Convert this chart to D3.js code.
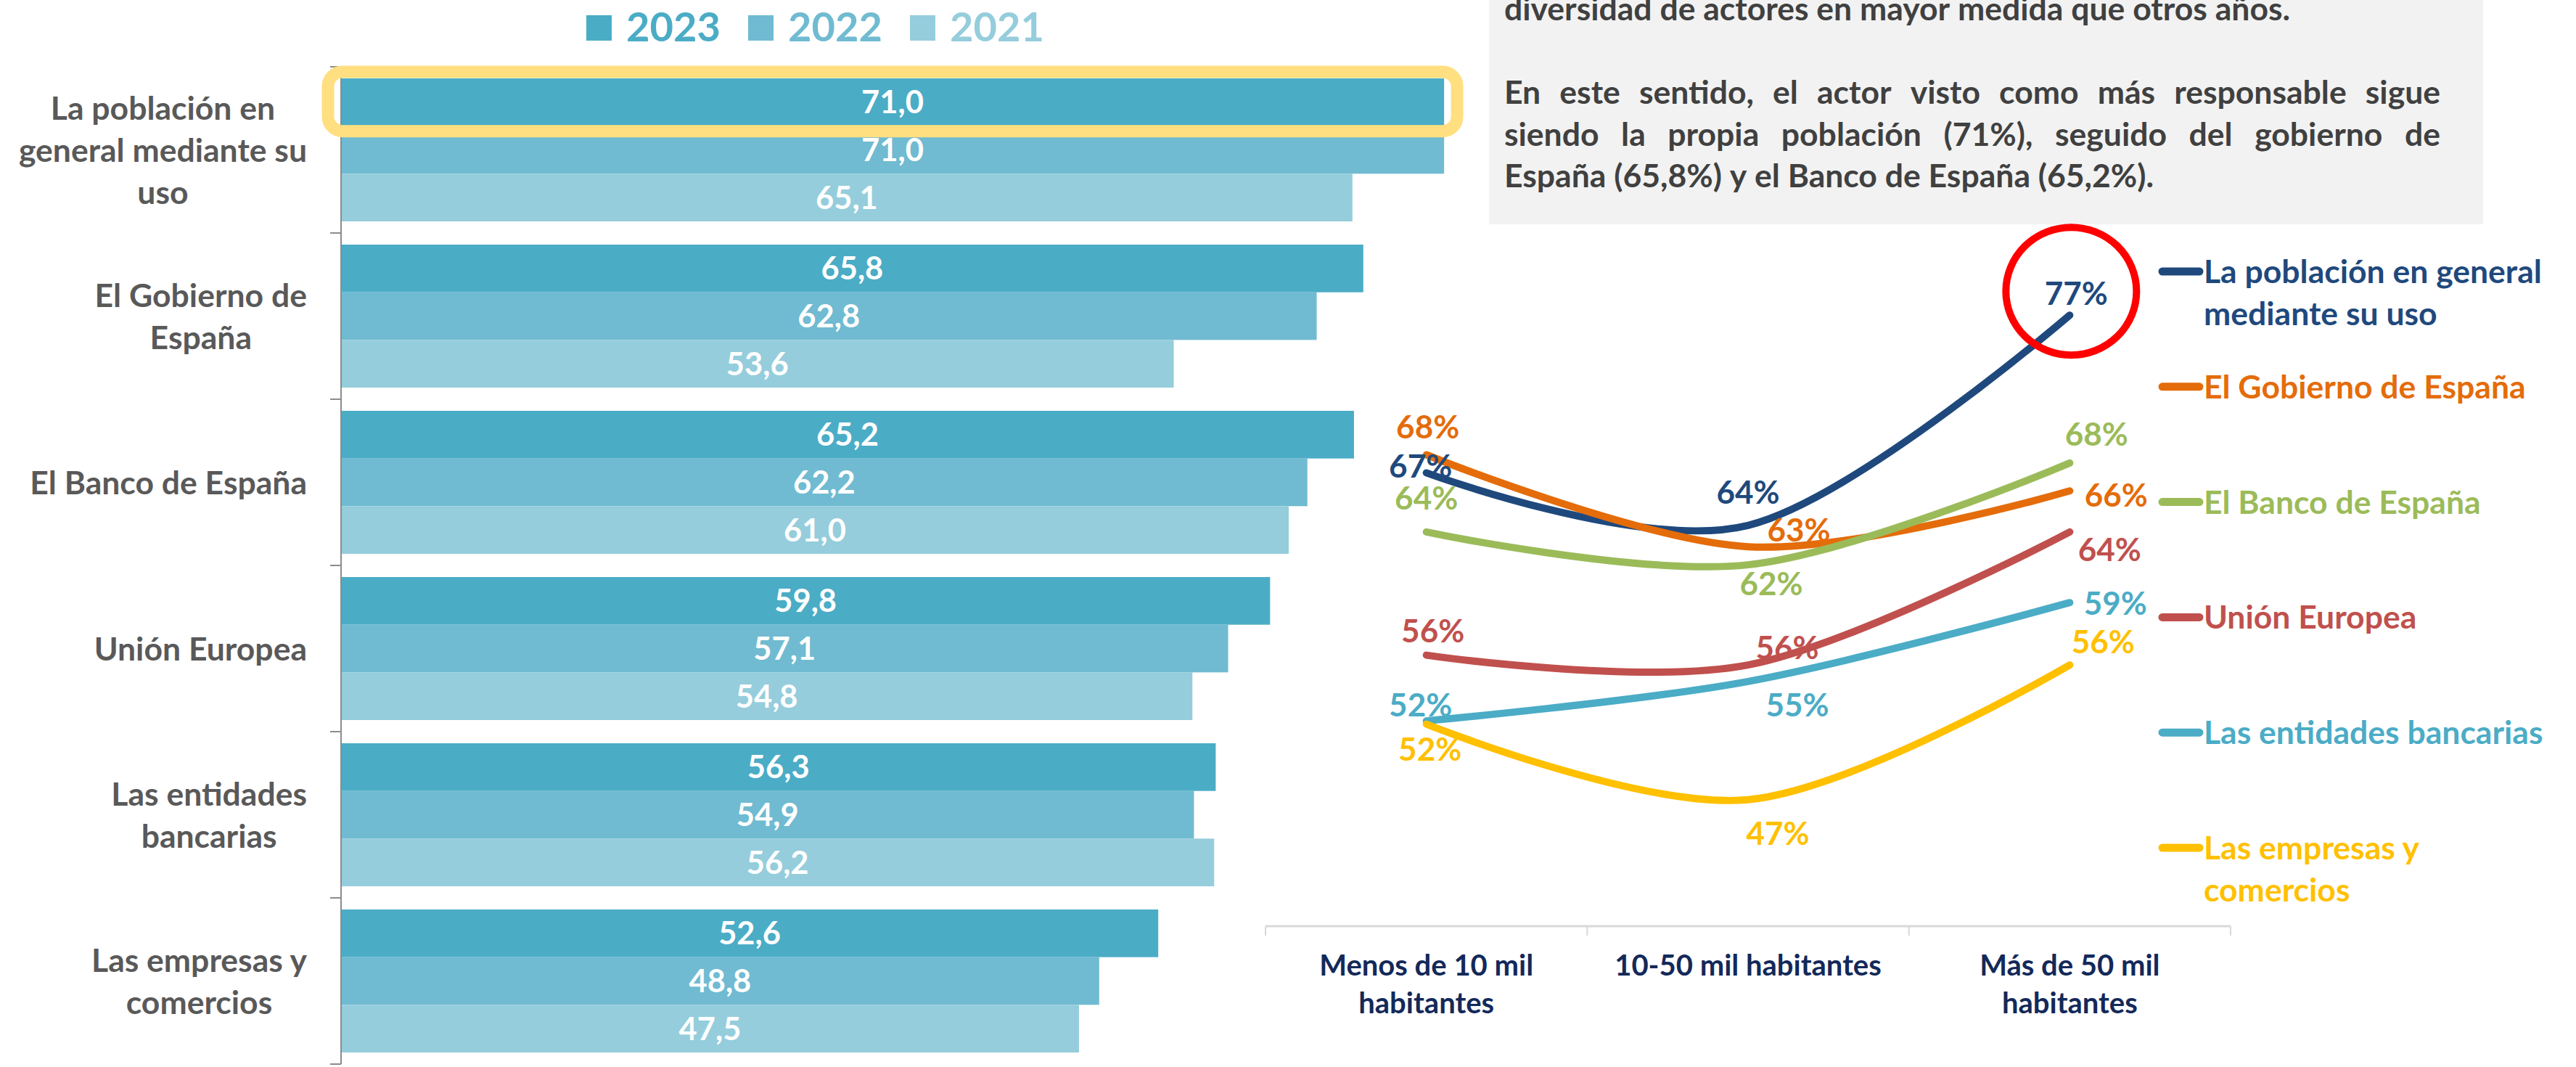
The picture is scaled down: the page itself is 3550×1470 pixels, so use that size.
<!DOCTYPE html>
<html><head><meta charset="utf-8">
<script src="https://cdn.jsdelivr.net/npm/d3@7"></script>
<style>
html,body{margin:0;padding:0;background:#fff;overflow:hidden;}
svg text{font-family:Lato,'Open Sans',sans-serif;font-weight:700;}
</style></head><body>
<svg id="chart" width="3550" height="1470"></svg>
<script>
// ---------------- DATA ----------------
const barCategories = ["La población en general mediante su uso","El Gobierno de España","El Banco de España","Unión Europea","Las entidades bancarias","Las empresas y comercios"];
const barLabelLines = [["La población en","general mediante su","uso"],["El Gobierno de","España"],["El Banco de España"],["Unión Europea"],["Las entidades","bancarias"],["Las empresas y","comercios"]];
const years = ["2023","2022","2021"];
const values2023 = [71.0,65.8,65.2,59.8,56.3,52.6];
const values2022 = [71.0,62.8,62.2,57.1,54.9,48.8];
const values2021 = [65.1,53.6,61.0,54.8,56.2,47.5];

const sizeCategories = ["Menos de 10 mil habitantes","10-50 mil habitantes","Más de 50 mil habitantes"];
const sizeLabelLines = [["Menos de 10 mil","habitantes"],["10-50 mil habitantes"],["Más de 50 mil","habitantes"]];
const lineSeriesNames = ["La población en general mediante su uso","El Gobierno de España","El Banco de España","Unión Europea","Las entidades bancarias","Las empresas y comercios"];
const legendLines = [["La población en general","mediante su uso"],["El Gobierno de España"],["El Banco de España"],["Unión Europea"],["Las entidades bancarias"],["Las empresas y","comercios"]];
const poblacion = [67.3,64.1,76.9];
const gobierno = [68.4,62.8,66.2];
const bancoEspana = [63.7,61.7,67.9];
const unionEuropea = [56.2,55.6,63.7];
const entidades = [52.2,54.6,59.4];
const empresas = [52.0,47.4,55.6];

const noteLines = ["diversidad de actores en mayor medida que otros años.","","En este sentido, el actor visto como más responsable sigue","siendo la propia población (71%), seguido del gobierno de","España (65,8%) y el Banco de España (65,2%)."];
const noteJustify = [false,false,true,true,false];

// ---------------- STYLE / LAYOUT ----------------
const barColors = ["#4BACC6","#70BBD1","#95CDDC"];
const lineColors = ["#1F497D","#E46C0A","#9BBB59","#C0504D","#4BACC6","#FFC000"];
const FS = 44.5;
// label offsets (dx, baseline dy) relative to each point
const labelOffsets = [
  [[-8,7],[0,-30],[9,-14]],
  [[2,-23],[70,-7],[64,22]],
  [[0,-31],[32,42],[37,-24]],
  [[9,-18],[54,-8],[55,40]],
  [[-8,-6],[68,48],[63,17]],
  [[5,50],[41,62],[46,-16]]
];

const svg = d3.select("#chart");
const locale = d3.formatLocale({decimal:",",thousands:".",grouping:[3],currency:["","€"]});
const fmt1 = locale.format(".1f");

function measure(str, size){
  const t = svg.append("text").attr("font-size",size).text(str);
  const w = t.node().getComputedTextLength();
  t.remove();
  return w;
}

// ---------------- BAR CHART ----------------
const seriesByYear = {"2023":values2023,"2022":values2022,"2021":values2021};
const yBand = d3.scaleBand().domain(barCategories).range([92,1466]).paddingInner(0).paddingOuter(0);
const yInner = d3.scaleBand().domain(years).range([16, yBand.step()-16]);
const xBar = d3.scaleLinear().domain([0,80]).range([470, 470+80*21.41]);
const color = d3.scaleOrdinal().domain(years).range(barColors);

const barData = barCategories.flatMap((c,i)=>years.map(yr=>({cat:c,year:yr,value:seriesByYear[yr][i]})));

const gBars = svg.append("g");
gBars.selectAll("rect").data(barData).join("rect")
  .attr("x",xBar(0))
  .attr("y",d=>yBand(d.cat)+yInner(d.year))
  .attr("width",d=>xBar(d.value)-xBar(0))
  .attr("height",yInner.bandwidth())
  .attr("fill",d=>color(d.year));

gBars.selectAll("text.val").data(barData).join("text").attr("class","val")
  .attr("x",d=>(xBar(0)+xBar(d.value))/2)
  .attr("y",d=>yBand(d.cat)+yInner(d.year)+yInner.bandwidth()/2)
  .attr("dy","0.36em")
  .attr("text-anchor","middle")
  .attr("font-size",43.5)
  .attr("fill","#fff")
  .text(d=>fmt1(d.value));

// axis
const gAxis = svg.append("g");
gAxis.append("line").attr("x1",xBar(0)).attr("x2",xBar(0)).attr("y1",yBand.range()[0]).attr("y2",yBand.range()[1])
  .attr("stroke","#8C8C8C").attr("stroke-width",2);
const tickYs = barCategories.map(c=>yBand(c)).concat([yBand.range()[1]]);
gAxis.selectAll("line.tick").data(tickYs).join("line").attr("class","tick")
  .attr("x1",xBar(0)-15).attr("x2",xBar(0)).attr("y1",d=>d).attr("y2",d=>d)
  .attr("stroke","#8C8C8C").attr("stroke-width",2);

// highlight around first bar
{
  const d = barData[0];
  const bx = xBar(0), by = yBand(d.cat)+yInner(d.year), bw = xBar(d.value)-xBar(0), bh = yInner.bandwidth();
  svg.append("rect").attr("x",bx-18).attr("y",by-9).attr("width",bw+36).attr("height",bh+16)
    .attr("rx",20).attr("fill","none").attr("stroke","#FFDF80").attr("stroke-width",17);
}

// category labels
const gCat = svg.append("g");
barCategories.forEach((c,i)=>{
  const lines = barLabelLines[i];
  const maxW = d3.max(lines, l=>measure(l,FS));
  const cx = 423 - maxW/2;
  const cy = yBand(c)+yBand.step()/2;
  const lh = 58;
  lines.forEach((l,j)=>{
    gCat.append("text").attr("x",cx).attr("y",cy+(j-(lines.length-1)/2)*lh).attr("dy","0.36em")
      .attr("text-anchor","middle").attr("font-size",FS).attr("fill","#595959").text(l);
  });
});

// top legend
const gLeg = svg.append("g");
years.forEach((yr,i)=>{
  const x0 = 808 + i*223;
  gLeg.append("rect").attr("x",x0).attr("y",21).attr("width",35).attr("height",35).attr("fill",color(yr));
  gLeg.append("text").attr("x",x0+55).attr("y",57).attr("font-size",56).attr("fill",color(yr)).text(yr);
});

// ---------------- NOTE BOX ----------------
svg.append("rect").attr("x",2052).attr("y",-40).attr("width",1370).attr("height",349).attr("fill","#F2F2F2");
const gNote = svg.append("g").attr("fill","#404040").attr("font-size",FS);
const spaceW = measure("a b",FS)-measure("ab",FS);
noteLines.forEach((line,i)=>{
  if(!line) return;
  const y = 28 + i*57.5;
  const words = line.split(" ");
  const ws = words.map(w=>measure(w,FS));
  const total = d3.sum(ws);
  const gap = noteJustify[i] ? (3363-2073-total)/(words.length-1) : spaceW;
  let x = 2073;
  words.forEach((w,k)=>{
    gNote.append("text").attr("x",x).attr("y",y).text(w);
    x += ws[k]+gap;
  });
});

// ---------------- LINE CHART ----------------
const lineData = [poblacion,gobierno,bancoEspana,unionEuropea,entidades,empresas];
const xCat = d3.scaleBand().domain(sizeCategories).range([1744,3074]);
const yLine = d3.scaleLinear().domain([39.7,80]).range([1276,364]);
const px = i => xCat(sizeCategories[i]) + xCat.bandwidth()/2;

const gX = svg.append("g");
gX.append("line").attr("x1",xCat.range()[0]).attr("x2",xCat.range()[1]).attr("y1",yLine(39.7)).attr("y2",yLine(39.7))
  .attr("stroke","#D9D9D9").attr("stroke-width",3);
const xTicks = sizeCategories.map(c=>xCat(c)).concat([xCat.range()[1]]);
gX.selectAll("line.t").data(xTicks).join("line").attr("class","t")
  .attr("x1",d=>d).attr("x2",d=>d).attr("y1",yLine(39.7)).attr("y2",yLine(39.7)+13)
  .attr("stroke","#D9D9D9").attr("stroke-width",2);
sizeCategories.forEach((c,i)=>{
  sizeLabelLines[i].forEach((l,j)=>{
    gX.append("text").attr("x",px(i)).attr("y",1344+j*52).attr("text-anchor","middle")
      .attr("font-size",40).attr("fill","#13295A").text(l);
  });
});

const lineGen = d3.line().x((d,i)=>px(i)).y(d=>yLine(d)).curve(d3.curveCardinal.tension(0));
const gLines = svg.append("g");
gLines.selectAll("path").data(lineData).join("path")
  .attr("d",d=>lineGen(d)).attr("fill","none")
  .attr("stroke",(d,i)=>lineColors[i]).attr("stroke-width",10)
  .attr("stroke-linecap","round").attr("stroke-linejoin","round");

const gLab = svg.append("g");
lineData.forEach((s,si)=>{
  s.forEach((v,k)=>{
    const off = labelOffsets[si][k];
    gLab.append("text").attr("x",px(k)+off[0]).attr("y",yLine(v)+off[1])
      .attr("text-anchor","middle").attr("font-size",44).attr("fill",lineColors[si])
      .text(d3.format(".0f")(v)+"%");
  });
});

// red circle around top value
svg.append("ellipse").attr("cx",px(2)+2).attr("cy",yLine(poblacion[2])-33).attr("rx",90).attr("ry",88)
  .attr("fill","none").attr("stroke","#FF0000").attr("stroke-width",10);

// line legend
const gLL = svg.append("g");
lineSeriesNames.forEach((n,i)=>{
  const cy = 374 + i*158.8;
  gLL.append("line").attr("x1",2980).attr("x2",3031).attr("y1",cy).attr("y2",cy)
    .attr("stroke",lineColors[i]).attr("stroke-width",11).attr("stroke-linecap","round");
  legendLines[i].forEach((l,j)=>{
    gLL.append("text").attr("x",3037).attr("y",cy+j*58).attr("dy","0.36em")
      .attr("font-size",FS).attr("fill",lineColors[i]).text(l);
  });
});
</script>
</body></html>
